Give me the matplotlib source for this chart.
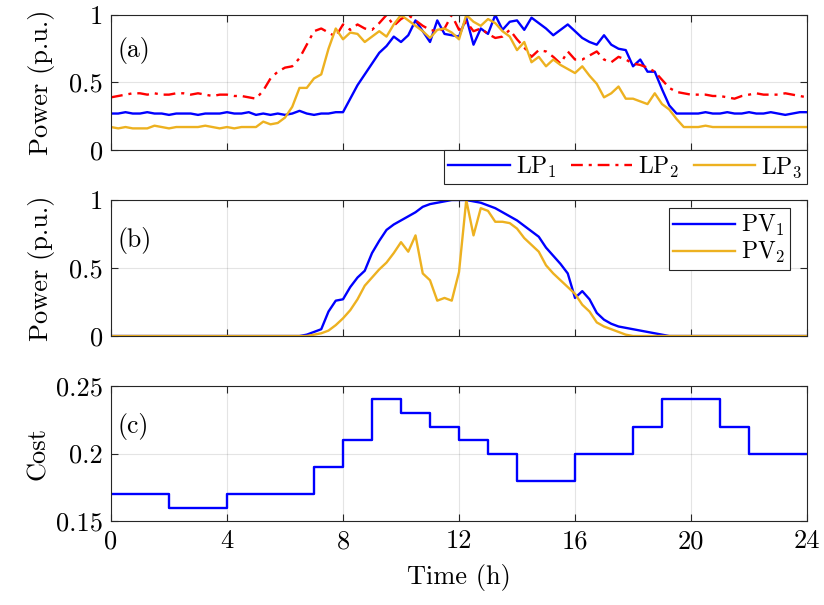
import numpy as np
import matplotlib
matplotlib.use("Agg")
from matplotlib import pyplot as plt

plt.rcParams['font.family'] = ['cmr10', 'DejaVu Serif']
plt.rcParams['mathtext.fontset'] = 'cm'
plt.rcParams['axes.formatter.use_mathtext'] = True
plt.rcParams['axes.unicode_minus'] = False

# time axis, 15 min resolution
t = np.arange(97) * 0.25

lp1 = [0.27, 0.27, 0.28, 0.27, 0.27, 0.28, 0.27, 0.27, 0.26, 0.27, 0.27, 0.27, 0.26, 0.27, 0.27, 0.27,
       0.28, 0.27, 0.27, 0.28, 0.26, 0.27, 0.26, 0.27, 0.26, 0.27, 0.29, 0.27, 0.26, 0.27, 0.27, 0.28,
       0.28, 0.38, 0.48, 0.56, 0.64, 0.72, 0.77, 0.84, 0.80, 0.85, 0.96, 0.88, 0.80, 0.96, 0.86, 0.85,
       0.84, 0.98, 0.78, 0.90, 0.86, 1.00, 0.89, 0.95, 0.96, 0.89, 0.98, 0.94, 0.90, 0.85, 0.89, 0.93,
       0.88, 0.83, 0.80, 0.78, 0.85, 0.78, 0.75, 0.74, 0.62, 0.67, 0.58, 0.58, 0.45, 0.33, 0.27, 0.27,
       0.27, 0.27, 0.28, 0.27, 0.27, 0.28, 0.27, 0.27, 0.28, 0.27, 0.27, 0.28, 0.27, 0.26, 0.27, 0.28,
       0.28]
lp2 = [0.39, 0.40, 0.41, 0.42, 0.42, 0.41, 0.42, 0.41, 0.41, 0.42, 0.42, 0.41, 0.42, 0.41, 0.40, 0.41,
       0.41, 0.40, 0.40, 0.39, 0.38, 0.44, 0.53, 0.58, 0.61, 0.62, 0.68, 0.78, 0.88, 0.90, 0.87, 0.84,
       0.93, 0.89, 0.93, 0.90, 0.89, 0.94, 1.00, 0.92, 0.97, 1.00, 0.96, 0.92, 0.89, 0.88, 0.90, 1.00,
       0.89, 0.95, 0.88, 0.90, 0.86, 0.83, 0.84, 0.89, 0.82, 0.76, 0.69, 0.74, 0.73, 0.69, 0.64, 0.73,
       0.67, 0.67, 0.70, 0.73, 0.67, 0.65, 0.69, 0.67, 0.64, 0.63, 0.61, 0.58, 0.52, 0.46, 0.43, 0.42,
       0.41, 0.41, 0.41, 0.40, 0.40, 0.39, 0.38, 0.40, 0.41, 0.42, 0.41, 0.41, 0.41, 0.42, 0.41, 0.40,
       0.39]
lp3 = [0.17, 0.16, 0.17, 0.16, 0.16, 0.16, 0.18, 0.17, 0.16, 0.17, 0.17, 0.17, 0.17, 0.18, 0.17, 0.16,
       0.17, 0.16, 0.17, 0.17, 0.17, 0.21, 0.19, 0.20, 0.24, 0.32, 0.46, 0.46, 0.53, 0.56, 0.75, 0.90,
       0.82, 0.87, 0.86, 0.80, 0.84, 0.88, 0.84, 0.93, 1.00, 0.96, 0.92, 0.88, 0.83, 0.89, 0.90, 0.87,
       0.82, 1.00, 0.95, 0.92, 0.97, 0.94, 0.88, 0.84, 0.74, 0.80, 0.65, 0.69, 0.62, 0.67, 0.63, 0.60,
       0.57, 0.62, 0.55, 0.49, 0.39, 0.42, 0.47, 0.38, 0.38, 0.36, 0.34, 0.42, 0.34, 0.30, 0.23, 0.17,
       0.17, 0.17, 0.18, 0.17, 0.17, 0.17, 0.17, 0.17, 0.17, 0.17, 0.17, 0.17, 0.17, 0.17, 0.17, 0.17,
       0.17]

pv1 = [0.0] * 26 + [
       0.00, 0.01, 0.03, 0.05, 0.18, 0.26, 0.27, 0.36, 0.43, 0.48, 0.61, 0.70, 0.78, 0.82, 0.85, 0.88,
       0.91, 0.95, 0.97, 0.98, 0.99, 1.00, 1.00, 1.00, 0.99, 0.98, 0.96, 0.94, 0.91, 0.88, 0.85, 0.81,
       0.77, 0.73, 0.65, 0.59, 0.53, 0.46, 0.28, 0.33, 0.27, 0.17, 0.12, 0.09, 0.07, 0.06, 0.05, 0.04,
       0.03, 0.02, 0.01, 0.00] + [0.0] * 19
pv2 = [0.0] * 27 + [
       0.00, 0.01, 0.02, 0.04, 0.08, 0.13, 0.19, 0.27, 0.37, 0.43, 0.49, 0.54, 0.61, 0.69, 0.62, 0.74,
       0.46, 0.41, 0.26, 0.28, 0.26, 0.47, 1.00, 0.74, 0.94, 0.92, 0.84, 0.84, 0.83, 0.79, 0.72, 0.67,
       0.62, 0.52, 0.46, 0.41, 0.36, 0.31, 0.23, 0.18, 0.10, 0.07, 0.05, 0.03, 0.01, 0.00] + [0.0] * 24

# hourly tariff
hours = np.arange(25)
cost = [0.17, 0.17, 0.16, 0.16, 0.17, 0.17, 0.17, 0.19, 0.21, 0.24, 0.23, 0.22,
        0.21, 0.20, 0.18, 0.18, 0.20, 0.20, 0.22, 0.24, 0.24, 0.22, 0.20, 0.20]

blue = (0, 0, 1)
red = (1, 0, 0)
yellow = (0.929, 0.694, 0.125)
fs = 19
lfs = 17

fig = plt.figure(figsize=(8.24, 6.05), dpi=100)
L, W = 0.1347, 0.8447
ax1 = fig.add_axes([L, 0.7521, W, 0.2231])
ax2 = fig.add_axes([L, 0.4446, W, 0.2248])
ax3 = fig.add_axes([L, 0.1388, W, 0.2232])


def style(ax):
    ax.set_xlim(0, 24)
    ax.set_xticks(np.arange(0, 25, 4))
    ax.grid(True, color=(0.15, 0.15, 0.15), alpha=0.12, linewidth=0.8)
    ax.tick_params(direction='in', top=True, right=True, length=5, width=0.8,
                   labelsize=fs, color=(0.15, 0.15, 0.15), pad=6)
    for s in ax.spines.values():
        s.set_color((0.15, 0.15, 0.15))
        s.set_linewidth(0.8)


for ax in (ax1, ax2):
    style(ax)
    ax.set_ylim(0, 1)
    ax.set_yticks([0, 0.5, 1])
    ax.set_yticklabels(['0', '0.5', '1'])
    ax.set_xticklabels([])
    ax.set_ylabel('Power (p.u.)', fontsize=fs)
    ax.yaxis.set_label_coords(-0.080, 0.5)

ax1.plot(t, lp1, color=blue, lw=1.7, label='LP$_1$')
ax1.plot(t, lp2, color=red, lw=1.7, ls=(0, (5, 2.5, 1.3, 2.5)), label='LP$_2$')
ax1.plot(t, lp3, color=yellow, lw=1.7, label='LP$_3$')
ax1.text(0.010, 0.74, '(a)', transform=ax1.transAxes, fontsize=18.5, va='center')
leg1 = ax1.legend(loc='upper right', bbox_to_anchor=(1.0, 0.0), ncol=3, fontsize=lfs,
                  frameon=True, fancybox=False, framealpha=1, edgecolor=(0.15, 0.15, 0.15),
                  handlelength=2.6, handletextpad=0.25, columnspacing=0.6,
                  borderpad=0.2, borderaxespad=0)
leg1.get_frame().set_linewidth(0.8)

ax2.plot(t, pv1, color=blue, lw=1.7, label='PV$_1$')
ax2.plot(t, pv2, color=yellow, lw=1.7, label='PV$_2$')
ax2.text(0.010, 0.70, '(b)', transform=ax2.transAxes, fontsize=18.5, va='center')
leg2 = ax2.legend(loc='upper right', bbox_to_anchor=(0.975, 0.94), fontsize=lfs,
                  frameon=True, fancybox=False, framealpha=1, edgecolor=(0.15, 0.15, 0.15),
                  handlelength=2.6, handletextpad=0.25, borderpad=0.2,
                  labelspacing=0.1, borderaxespad=0)
leg2.get_frame().set_linewidth(0.8)

style(ax3)
ax3.step(hours, cost + [cost[-1]], where='post', color=blue, lw=1.7)
ax3.set_ylim(0.15, 0.25)
ax3.set_yticks([0.15, 0.2, 0.25])
ax3.set_yticklabels(['0.15', '0.2', '0.25'])
ax3.set_xticklabels([str(v) for v in range(0, 25, 4)])
ax3.set_ylabel('Cost', fontsize=fs)
ax3.yaxis.set_label_coords(-0.088, 0.5)
ax3.set_xlabel('Time (h)', fontsize=fs, labelpad=8)
ax3.text(0.010, 0.70, '(c)', transform=ax3.transAxes, fontsize=18.5, va='center')

fig.savefig('out.png', dpi=100)
